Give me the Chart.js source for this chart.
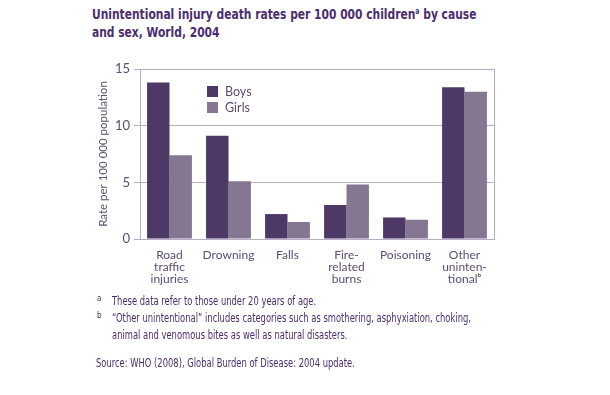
<!DOCTYPE html>
<html>
<head>
<meta charset="utf-8">
<script src="https://cdn.jsdelivr.net/npm/chart.js@4.4.1/dist/chart.umd.min.js"></script>
<style>
  html, body { margin: 0; padding: 0; background: #ffffff; }
  body { width: 610px; height: 395px; position: relative; overflow: hidden; }
  #title { position: absolute; left: 92px; top: 5px; white-space: nowrap; font-family: "DejaVu Sans Condensed", "Liberation Sans", sans-serif; font-weight: bold; font-size: 14px; line-height: 18px; color: #4b2d6d; transform: scaleX(0.85); transform-origin: 0 0; }
  #title sup { font-size: 8px; line-height: 0; vertical-align: 5px; }
  #chartBox { position: absolute; left: 0; top: 0; width: 610px; height: 295px; }
  .fn { position: absolute; white-space: nowrap; font-family: "DejaVu Sans Condensed", "Liberation Sans", sans-serif; font-size: 11.5px; color: #4b2d6d; line-height: 16.5px; transform: scaleX(0.81); transform-origin: 0 0; }
  .mk { position: absolute; font-family: "DejaVu Sans Condensed", sans-serif; font-size: 8px; color: #4b2d6d; }
</style>
</head>
<body>
<div id="title">Unintentional injury death rates per 100 000 children<sup>a</sup> by cause<br>and sex, World, 2004</div>
<div id="chartBox"><canvas id="c"></canvas></div>
<div class="mk" style="left:97px; top:294px;">a</div>
<div class="fn" style="left:112px; top:293px;">These data refer to those under 20 years of age.</div>
<div class="mk" style="left:97px; top:311px;">b</div>
<div class="fn" style="left:112px; top:310px;">“Other unintentional” includes categories such as smothering, asphyxiation, choking,<br>animal and venomous bites as well as natural disasters.</div>
<div class="fn" style="left:96px; top:355px;">Source: WHO (2008), Global Burden of Disease: 2004 update.</div>
<script>
const categories = [
  ["Road", "traffic", "injuries"],
  ["Drowning"],
  ["Falls"],
  ["Fire-", "related", "burns"],
  ["Poisoning"],
  ["Other", "uninten-", "tional\u1D47"]
];
const boys  = [13.8, 9.1, 2.2, 3.0, 1.9, 13.4];
const girls = [7.4, 5.1, 1.5, 4.8, 1.7, 13.0];
const yTicks = [0, 5, 10, 15];
const seriesNames = ["Boys", "Girls"];

const BOYS_COLOR = "#4e3866";
const GIRLS_COLOR = "#857691";
const GRID = "#b8adc6";
const TEXT = "#5e4d6e";
const FONT = "Lato, 'Open Sans', sans-serif";

const frame = {
  id: "frame",
  afterDatasetsDraw(chart) {
    const { ctx, chartArea: a } = chart;
    ctx.save();
    ctx.strokeStyle = GRID;
    ctx.lineWidth = 1;
    ctx.beginPath();
    ctx.moveTo(Math.round(a.right) + 0.5, a.top);
    ctx.lineTo(Math.round(a.right) + 0.5, a.bottom);
    ctx.stroke();
    // legend
    const lx = 207, ly = 86, box = 11, gap = 16;
    ctx.font = "12.5px " + FONT;
    ctx.textBaseline = "middle";
    chart.data.datasets.forEach((ds, i) => {
      ctx.fillStyle = ds.backgroundColor;
      ctx.fillRect(lx, ly + i * gap, box, box);
      ctx.fillStyle = TEXT;
      ctx.fillText(ds.label, lx + box + 7, ly + i * gap + box / 2 + 0.5);
    });
    ctx.restore();
  }
};

new Chart(document.getElementById("c"), {
  type: "bar",
  data: {
    labels: categories,
    datasets: [
      { label: seriesNames[0], data: boys, backgroundColor: BOYS_COLOR, borderWidth: 0 },
      { label: seriesNames[1], data: girls, backgroundColor: GIRLS_COLOR, borderWidth: 0 }
    ]
  },
  options: {
    responsive: true,
    maintainAspectRatio: false,
    animation: false,
    layout: { padding: { left: 96, right: 116, top: 69, bottom: 0 } },
    plugins: { legend: { display: false }, tooltip: { enabled: false } },
    datasets: { bar: { barPercentage: 1.0, categoryPercentage: 0.76 } },
    scales: {
      x: {
        grid: { display: false },
        border: { color: GRID, width: 1 },
        ticks: { color: TEXT, font: { family: FONT, size: 12, lineHeight: 1.0 }, padding: 2, maxRotation: 0, autoSkip: false },
        afterFit(s) { s.height = 56; }
      },
      y: {
        min: 0, max: 15,
        afterBuildTicks(s) { s.ticks = yTicks.map(v => ({ value: v })); },
        grid: { color: GRID, lineWidth: 1, tickLength: 6, drawTicks: true },
        border: { color: GRID, width: 1 },
        ticks: { color: TEXT, font: { family: FONT, size: 13 }, padding: 4 },
        title: { display: true, text: "Rate per 100 000 population", color: TEXT, font: { family: FONT, size: 11.5 }, padding: { top: 0, bottom: 0 } },
        afterFit(s) { s.width = 44; }
      }
    }
  },
  plugins: [frame]
});
</script>
</body>
</html>
